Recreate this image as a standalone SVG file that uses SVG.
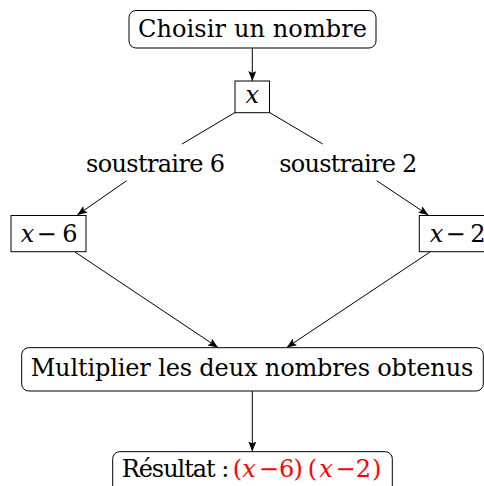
<svg xmlns="http://www.w3.org/2000/svg" width="484" height="486" viewBox="0 0 484 486">
<style>
  .t{font-family:"DejaVu Serif","Liberation Serif",serif;font-size:24px;fill:#000;text-anchor:middle}
  .m{font-style:italic}
  .box{fill:#fff;stroke:#000;stroke-width:1}
  .ln{fill:none;stroke:#000;stroke-width:1}
  .red{fill:#ff0000}
</style>
<defs>
  <marker id="ah" viewBox="0 0 10 8" refX="10" refY="4" markerWidth="10" markerHeight="8" markerUnits="userSpaceOnUse" orient="auto">
    <path d="M0,0 L10,4 L0,8 L2,4 Z" fill="#000"/>
  </marker>
</defs>
<rect width="484" height="486" fill="#fff"/>
<g id="connectors">
  <line class="ln" x1="252.3" y1="48" x2="252.3" y2="81" marker-end="url(#ah)"/>
  <line class="ln" x1="235" y1="112.5" x2="182" y2="144"/>
  <line class="ln" x1="126.7" y1="180.7" x2="77.3" y2="215" marker-end="url(#ah)"/>
  <line class="ln" x1="269.5" y1="112.5" x2="322.7" y2="144"/>
  <line class="ln" x1="376.7" y1="180.7" x2="428.3" y2="215" marker-end="url(#ah)"/>
  <line class="ln" x1="75" y1="252" x2="218" y2="347.5" marker-end="url(#ah)"/>
  <line class="ln" x1="430" y1="252" x2="286.7" y2="347.5" marker-end="url(#ah)"/>
  <line class="ln" x1="252.3" y1="391" x2="252.3" y2="451.5" marker-end="url(#ah)"/>
</g>
<g id="choisir">
  <rect class="box" x="129" y="10.5" width="247" height="37.5" rx="7"/>
  <text class="t" x="252.5" y="37.3" textLength="229">Choisir un nombre</text>
</g>
<g id="x">
  <rect class="box" x="235" y="81" width="34.5" height="31.7"/>
  <text class="t m" x="252.3" y="103">x</text>
</g>
<g id="label6">
  <text class="t" x="155.5" y="171.7" textLength="139">soustraire 6</text>
</g>
<g id="label2">
  <text class="t" x="348.3" y="171.7" textLength="138">soustraire 2</text>
</g>
<g id="xm6">
  <rect class="box" x="11" y="215.5" width="75" height="36.2"/>
  <text class="t m" x="27.5" y="241.7">x</text>
  <text class="t" x="46.5" y="241.7">−</text>
  <text class="t" x="70" y="241.7">6</text>
</g>
<g id="xm2">
  <rect class="box" x="419.3" y="215.5" width="80" height="36.2"/>
  <text class="t m" x="436.5" y="241.7">x</text>
  <text class="t" x="455.5" y="241.7">−</text>
  <text class="t" x="478" y="241.7">2</text>
</g>
<g id="multiplier">
  <rect class="box" x="21.7" y="347.7" width="461.6" height="43.3" rx="7"/>
  <text class="t" x="252" y="376" textLength="442.6">Multiplier les deux nombres obtenus</text>
</g>
<g id="resultat">
  <rect class="box" x="112.7" y="451.7" width="279.6" height="45" rx="7"/>
  <text class="t" x="175.5" y="477.3" textLength="107.6">Résultat :</text>
  <text class="t red" x="237.5" y="477.3">(</text>
  <text class="t red m" x="249" y="477.3">x</text>
  <text class="t red" x="268.8" y="477.3">−</text>
  <text class="t red" x="286.7" y="477.3">6</text>
  <text class="t red" x="298.3" y="477.3">)</text>
  <text class="t red" x="312.5" y="477.3">(</text>
  <text class="t red m" x="326" y="477.3">x</text>
  <text class="t red" x="345.5" y="477.3">−</text>
  <text class="t red" x="363.3" y="477.3">2</text>
  <text class="t red" x="376.7" y="477.3">)</text>
</g>
</svg>
